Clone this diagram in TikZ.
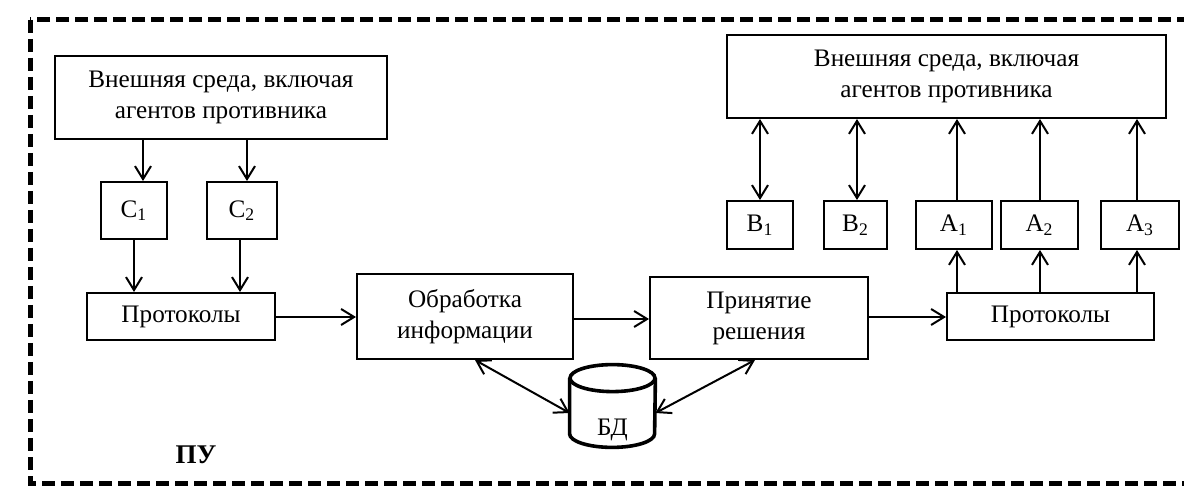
\documentclass[tikz,border=0pt]{standalone}
\usepackage{fontspec}
\setmainfont{Liberation Serif}
\usetikzlibrary{arrows.meta,calc}
\begin{document}
\begin{tikzpicture}[x=0.5pt,y=0.5pt,
  box/.style={draw, line width=1pt, inner sep=0pt, align=center, font=\fontsize{12.6}{15.5}\selectfont},
  arr/.style={line width=1pt, -{Straight Barb[length=6.5pt,width=8pt]}},
  darr/.style={line width=1pt, {Straight Barb[length=6.5pt,width=8pt]}-{Straight Barb[length=6.5pt,width=8pt]}},
  cyl/.style={line width=1.8pt}]
\useasboundingbox (0,0) rectangle (1184,-486);
\clip (0,0) rectangle (1184,-486);
\draw[line width=2.5pt, dash pattern=on 6.5pt off 3pt] (30,-20) rectangle (1230,-483);

\node[box, minimum width=166pt, minimum height=41.5pt] (envL) at (221,-97.5) {Внешняя среда, включая\\агентов противника};
\node[box, minimum width=33pt, minimum height=28.5pt] (c1) at (134,-210.5) {С\textsubscript{1}};
\node[box, minimum width=35pt, minimum height=28.5pt] (c2) at (242,-210.5) {С\textsubscript{2}};
\node[box, minimum width=94pt, minimum height=23.5pt] (protL) at (181,-316.5) {Протоколы};
\node[box, minimum width=108pt, minimum height=42.5pt] (obr) at (465,-316.5) {Обработка\\информации};
\node[box, minimum width=109pt, minimum height=41pt] (prin) at (759,-318) {Принятие\\решения};
\node[box, minimum width=103.5pt, minimum height=23.5pt] (protR) at (1050.5,-316.5) {Протоколы};
\node[box, minimum width=219.5pt, minimum height=41.5pt] (envR) at (946.5,-76.5) {Внешняя среда, включая\\агентов противника};
\node[box, minimum width=33pt, minimum height=24pt] (b1) at (760,-225) {В\textsubscript{1}};
\node[box, minimum width=31.5pt, minimum height=24pt] (b2) at (855.5,-225) {В\textsubscript{2}};
\node[box, minimum width=38pt, minimum height=24pt] (a1) at (954,-225) {А\textsubscript{1}};
\node[box, minimum width=38.5pt, minimum height=24pt] (a2) at (1039.5,-225) {А\textsubscript{2}};
\node[box, minimum width=39pt, minimum height=24pt] (a3) at (1140,-225) {А\textsubscript{3}};

% database
\node[minimum width=42.5pt, minimum height=41pt, inner sep=0pt] (db) at (612.5,-406) {};
\draw[cyl] ($(db.north west)+(0,-13.5)$) -- ($(db.south west)+(0,13.5)$)
  arc[start angle=180, end angle=360, x radius=21.25pt, y radius=6.75pt]
  -- ($(db.north east)+(0,-13.5)$);
\draw[cyl] ($(db.north)+(0,-13.5)$) ellipse [x radius=21.25pt, y radius=6.75pt];
\node[font=\fontsize{12.6}{14}\selectfont] (dbl) at ($(db.center)+(0,-24)$) {БД};

\node[font=\fontsize{13.5}{15}\selectfont\bfseries] (pu) at (196,-455) {ПУ};

% helper coordinates
\coordinate (xc1a) at (143,0);
\coordinate (xc1b) at (134,0);
\coordinate (xc2a) at (247,0);
\coordinate (xc2b) at (240,0);
\coordinate (xb1) at (760,0);
\coordinate (xb2) at (857,0);
\coordinate (xa1) at (957,0);
\coordinate (xa2) at (1040,0);
\coordinate (xa3) at (1137,0);
\coordinate (xo) at (475,0);
\coordinate (xp) at (755,0);
\coordinate (y317) at (0,-317);
\coordinate (y319) at (0,-319);
\coordinate (y413) at (0,-413);

\draw[arr] (envL.south -| xc1a) -- (c1.north -| xc1a);
\draw[arr] (envL.south -| xc2a) -- (c2.north -| xc2a);
\draw[arr] (c1.south -| xc1b) -- (protL.north -| xc1b);
\draw[arr] (c2.south -| xc2b) -- (protL.north -| xc2b);
\draw[arr] (protL.east |- y317) -- (obr.west |- y317);
\draw[arr] (obr.east |- y319) -- (prin.west |- y319);
\draw[arr] (prin.east |- y317) -- (protR.west |- y317);
\draw[darr] (envR.south -| xb1) -- (b1.north -| xb1);
\draw[darr] (envR.south -| xb2) -- (b2.north -| xb2);
\draw[arr] (a1.north -| xa1) -- (envR.south -| xa1);
\draw[arr] (a2.north -| xa2) -- (envR.south -| xa2);
\draw[arr] (a3.north -| xa3) -- (envR.south -| xa3);
\draw[arr] (protR.north -| xa1) -- (a1.south -| xa1);
\draw[arr] (protR.north -| xa2) -- (a2.south -| xa2);
\draw[arr] (protR.north -| xa3) -- (a3.south -| xa3);
\draw[darr] (obr.south -| xo) -- (db.west |- y413);
\draw[darr] (prin.south -| xp) -- (db.east |- y413);
\end{tikzpicture}
\end{document}
